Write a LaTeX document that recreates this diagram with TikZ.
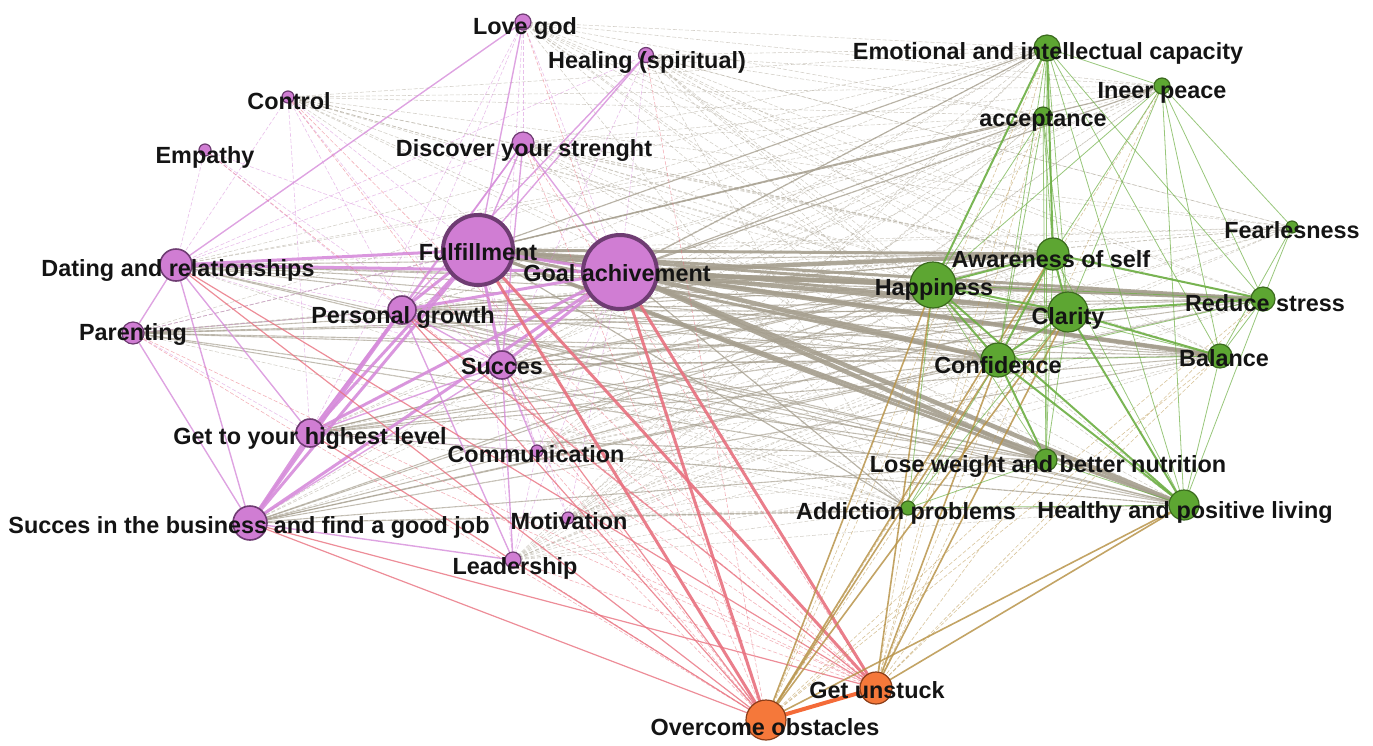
\documentclass[tikz,border=0pt]{standalone}
\usepackage{fontspec}
\setmainfont{Liberation Sans}
\pgfdeclarelayer{bg}
\pgfsetlayers{bg,main}
\definecolor{pfill}{HTML}{D07DD3}
\definecolor{pbord}{HTML}{6E3C72}
\definecolor{gfill}{HTML}{5DA632}
\definecolor{gbord}{HTML}{3B6A1E}
\definecolor{ofill}{HTML}{F5783A}
\definecolor{obord}{HTML}{8A3D18}
\definecolor{egrey}{HTML}{A59E8E}
\definecolor{ered}{HTML}{E8707E}
\definecolor{epurp}{HTML}{D68CDA}
\definecolor{egreen}{HTML}{6CAE42}
\definecolor{egold}{HTML}{B8944A}
\definecolor{eorange}{HTML}{F46B38}
\tikzset{
  vtx/.style={circle,inner sep=0pt,line width=1.2pt},
  pv/.style={vtx,fill=pfill,draw=pbord},
  gv/.style={vtx,fill=gfill,draw=gbord},
  ov/.style={vtx,fill=ofill,draw=obord},
  lbl/.style={inner sep=0pt,text=black!92,font=\bfseries\fontsize{23.4}{25}\selectfont},
  thinE/.style={line width=0.6pt,opacity=0.55},
  midE/.style={line width=1.4pt,opacity=0.8},
  thickE/.style={line width=3pt,opacity=0.9},
  fatE/.style={line width=4.5pt,opacity=0.9},
  dotE/.style={dash pattern=on 4pt off 2pt}
}
\begin{document}
\begin{tikzpicture}[x=1pt,y=-1pt]
\useasboundingbox (0,0) rectangle (1373,745);
% ---------- vertices ----------
\node[pv,minimum size=16pt] (lg) at (523,22) {};
\node[pv,minimum size=15pt] (he) at (646,55) {};
\node[pv,minimum size=12pt] (co) at (288,97) {};
\node[pv,minimum size=12pt] (em) at (205,150) {};
\node[pv,minimum size=22pt] (ds) at (523,143) {};
\node[pv,minimum size=70pt,line width=4pt] (fu) at (478,250) {};
\node[pv,minimum size=74pt,line width=4pt] (ga) at (620,272) {};
\node[pv,minimum size=32pt,line width=1.6pt] (dr) at (176,265) {};
\node[pv,minimum size=22pt] (pa) at (133,333) {};
\node[pv,minimum size=28pt,line width=1.6pt] (pg) at (402,310) {};
\node[pv,minimum size=28pt,line width=1.6pt] (su) at (502,365) {};
\node[pv,minimum size=28pt,line width=1.6pt] (gh) at (310,433) {};
\node[pv,minimum size=12pt] (cm) at (537,451) {};
\node[pv,minimum size=34pt,line width=1.6pt] (sb) at (250,523) {};
\node[pv,minimum size=12pt] (mo) at (568,518) {};
\node[pv,minimum size=16pt] (le) at (513,560) {};
\node[gv,minimum size=26pt] (ei) at (1047,48) {};
\node[gv,minimum size=16pt] (ip) at (1162,86) {};
\node[gv,minimum size=18pt] (ac) at (1043,116) {};
\node[gv,minimum size=12pt] (fe) at (1292,227) {};
\node[gv,minimum size=32pt] (aw) at (1053,254) {};
\node[gv,minimum size=46pt] (ha) at (933,285) {};
\node[gv,minimum size=40pt] (cl) at (1068,312) {};
\node[gv,minimum size=24pt] (rs) at (1263,299) {};
\node[gv,minimum size=34pt] (cf) at (998,360) {};
\node[gv,minimum size=24pt] (ba) at (1220,356) {};
\node[gv,minimum size=22pt] (lw) at (1046,460) {};
\node[gv,minimum size=14pt] (ad) at (908,508) {};
\node[gv,minimum size=30pt] (hl) at (1184,505) {};
\node[ov,minimum size=32pt] (gu) at (876,688) {};
\node[ov,minimum size=40pt] (oo) at (766,720) {};
% ---------- edges ----------
\begin{pgfonlayer}{bg}
% purple - green (grey)
\foreach \a in {fu,ga,dr,pa,pg,su,gh,sb,ds,cm,mo,le,co,lg,he}
  \foreach \b in {ei,ac,aw,ha,cl,rs,cf,ba,lw,ad,hl,ip,fe}
    \draw[egrey,line width=0.55pt,opacity=0.5,dotE] (\a.center) -- (\b.center);
\foreach \a in {dr,pa,pg,su,gh,sb}
  \foreach \b in {ha,cl,aw,cf,rs,ba,hl,lw}
    \draw[egrey,line width=1.1pt,opacity=0.55] (\a.center) -- (\b.center);
\foreach \a in {fu,ga}
  \foreach \b in {ei,ac,ad,ip}
    \draw[egrey,line width=1.2pt,opacity=0.7] (\a.center) -- (\b.center);
\foreach \b in {ha,aw,cl,cf,rs,ba,hl,lw}
  \draw[egrey,thickE] (fu.center) -- (\b.center);
\foreach \b in {ha,aw,cl,cf,rs,ba,hl,lw}
  \draw[egrey,fatE] (ga.center) -- (\b.center);
% purple - purple
\foreach \a/\b in {fu/dr,ga/dr,fu/pg,fu/su,fu/gh,fu/sb,ga/pg,ga/su,ga/gh,ga/sb,gh/sb,pg/gh,pg/sb,fu/ga}
  \draw[epurp,thickE] (\a.center) -- (\b.center);
\foreach \a/\b in {ds/fu,ds/ga,ds/pg,ds/gh,ds/su,lg/fu,lg/dr,he/pg,he/fu,dr/pa,dr/sb,pa/sb,dr/gh,su/gh,su/sb,pg/su,le/sb,le/su,le/pg,cm/su}
  \draw[epurp,midE] (\a.center) -- (\b.center);
\foreach \a/\b in {lg/ds,lg/pg,lg/ga,lg/su,he/ga,he/dr,co/su,co/gh,co/fu,em/dr,em/fu,co/dr,pa/gh,pa/fu,pa/pg,cm/fu,cm/ga,cm/gh,mo/su,mo/fu,mo/ga,le/fu,le/ga,le/cm,dr/pg,dr/su,ds/dr,em/pg,co/pg,em/su,lg/gh,he/su}
  \draw[epurp,thinE,dotE] (\a.center) -- (\b.center);
% purple - orange (red)
\foreach \a/\b in {fu/oo,ga/oo,fu/gu,ga/gu}
  \draw[ered,thickE] (\a.center) -- (\b.center);
\foreach \a/\b in {dr/oo,sb/oo,gh/oo,pg/oo,su/oo,dr/gu,sb/gu,pg/gu}
  \draw[ered,line width=1.2pt,opacity=0.8] (\a.center) -- (\b.center);
\foreach \a/\b in {lg/oo,co/oo,pa/oo,cm/oo,mo/oo,le/oo,ds/oo,gh/gu,su/gu,le/gu,cm/gu,mo/gu,pa/gu,he/oo,em/gu,co/gu,ds/gu}
  \draw[ered,thinE,dotE] (\a.center) -- (\b.center);
% green - orange (gold)
\foreach \a/\b in {oo/ha,oo/cf,oo/cl,gu/ha,gu/cf,gu/cl,oo/aw,gu/hl,oo/hl}
  \draw[egold,line width=1.6pt,opacity=0.85] (\a.center) -- (\b.center);
\foreach \a/\b in {oo/ei,oo/ac,oo/rs,oo/ba,oo/lw,oo/ad,gu/ei,gu/ac,gu/aw,gu/rs,gu/ba,gu/lw,gu/ad,oo/ip,gu/ip}
  \draw[egold,thinE,dotE] (\a.center) -- (\b.center);
% green - green
\foreach \a/\b in {ha/aw,ha/cl,ha/cf,cl/cf,aw/cl,aw/cf,cl/ba,cl/rs,cf/lw,cf/hl,cl/hl,ha/hl,aw/rs,ei/aw,ei/ha}
  \draw[egreen,line width=2pt,opacity=0.9] (\a.center) -- (\b.center);
\foreach \a/\b in {ei/ac,ei/cl,ei/cf,ei/rs,ei/ba,ei/hl,ei/lw,ei/ip,ip/aw,ip/cl,ip/rs,ip/ba,ip/hl,ip/ha,ac/aw,ac/ha,ac/cl,ac/cf,ac/lw,fe/rs,fe/ba,fe/ip,rs/ba,rs/hl,rs/ha,rs/cf,ba/hl,ba/ha,ba/cf,lw/hl,lw/cl,lw/ha,lw/aw,ad/lw,ad/ha,ad/cf,ad/cl,ad/hl,hl/aw}
  \draw[egreen,line width=0.8pt,opacity=0.7] (\a.center) -- (\b.center);
% orange - orange
\draw[eorange,line width=4pt] (oo.center) -- (gu.center);
\end{pgfonlayer}
% ---------- labels ----------
\node[lbl] (tlg) at (525,28) {Love god};
\node[lbl] (the) at (647,62) {Healing (spiritual)};
\node[lbl] (tco) at (289,101) {Control};
\node[lbl] (tem) at (205,157) {Empathy};
\node[lbl] (tds) at (524,150) {Discover your strenght};
\node[lbl] (tfu) at (478,252) {Fulfillment};
\node[lbl] (tga) at (617,273) {Goal achivement};
\node[lbl] (tdr) at (178,270) {Dating and relationships};
\node[lbl] (tpa) at (133,334) {Parenting};
\node[lbl] (tpg) at (403,317) {Personal growth};
\node[lbl] (tsu) at (502,366) {Succes};
\node[lbl] (tgh) at (310,438) {Get to your highest level};
\node[lbl] (tcm) at (536,454) {Communication};
\node[lbl] (tsb) at (249,527) {Succes in the business and find a good job};
\node[lbl] (tmo) at (569,521) {Motivation};
\node[lbl] (tle) at (515,568) {Leadership};
\node[lbl] (tei) at (1048,53) {Emotional and intellectual capacity};
\node[lbl] (tip) at (1162,93) {Ineer peace};
\node[lbl] (tac) at (1043,121) {acceptance};
\node[lbl] (tfe) at (1292,230) {Fearlesness};
\node[lbl] (taw) at (1051,259) {Awareness of self};
\node[lbl] (tha) at (934,289) {Happiness};
\node[lbl] (tcl) at (1068,318) {Clarity};
\node[lbl] (trs) at (1265,303) {Reduce stress};
\node[lbl] (tcf) at (998,365) {Confidence};
\node[lbl] (tba) at (1224,358) {Balance};
\node[lbl] (tlw) at (1048,466) {Lose weight and better nutrition};
\node[lbl] (tad) at (906,513) {Addiction problems};
\node[lbl] (thl) at (1185,512) {Healthy and positive living};
\node[lbl] (tgu) at (877,690) {Get unstuck};
\node[lbl] (too) at (765,727) {Overcome obstacles};
\end{tikzpicture}
\end{document}
